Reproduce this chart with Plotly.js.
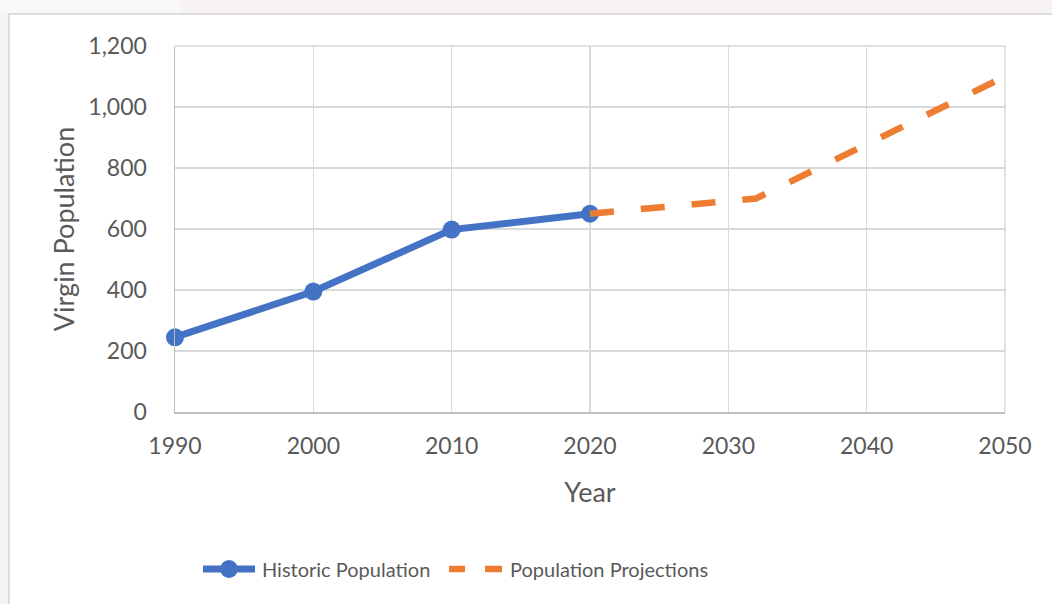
<!DOCTYPE html>
<html>
<head>
<meta charset="utf-8">
<script src="https://cdn.plot.ly/plotly-3.0.1.min.js"></script>
<style>
html,body{margin:0;padding:0;width:1052px;height:604px;overflow:hidden;background:#f7f3f2;}
#lt{position:absolute;left:0;top:0;width:180px;height:13px;background:#f8f8f8;}
#frame{position:absolute;left:8px;top:13px;width:1100px;height:700px;background:#fff;border-left:2px solid #dcdcdc;border-top:2px solid #dcdcdc;}
#chart{position:absolute;left:0;top:0;width:1052px;height:604px;}
</style>
</head>
<body>
<div id="lt"></div>
<div id="frame"></div>
<div id="chart"></div>
<script>
const histYears = [1990, 2000, 2010, 2020];
const histPop = [245, 395, 598, 650];
const projYears = [2020, 2032, 2050];
const projPop = [650, 700, 1100];
const seriesNames = ["Historic Population", "Population Projections"];
const xTitle = "Year";
const yTitle = "Virgin Population";

const font = "Lato, 'Open Sans', sans-serif";
const grey = "#595959";
const blue = "#4472C4";
const orange = "#ED7D31";

const traces = [
  {
    x: histYears, y: histPop, name: seriesNames[0], type: "scatter", mode: "lines+markers",
    line: {color: blue, width: 7},
    marker: {color: blue, size: 18},
    cliponaxis: false
  },
  {
    x: projYears, y: projPop, name: seriesNames[1], type: "scatter", mode: "lines",
    line: {color: orange, width: 6.5, dash: "24px,27px"},
    cliponaxis: false
  }
];

// legend drawn in paper space (plot area 175..1005 px wide, 46..412 px tall)
const pw = 830, ph = 366, pl = 175, pb = 412;
const px = v => (v - pl) / pw;
const ly = (pb - 569) / ph;

const legendShapes = [
  {type: "line", xref: "paper", yref: "paper", x0: px(203), x1: px(255), y0: ly, y1: ly,
   line: {color: blue, width: 7}},
  {type: "circle", xref: "paper", yref: "paper", xsizemode: "pixel", ysizemode: "pixel",
   xanchor: px(229), yanchor: ly, x0: -9, x1: 9, y0: -9, y1: 9,
   fillcolor: blue, line: {color: blue, width: 0}},
  {type: "line", xref: "paper", yref: "paper", x0: px(449), x1: px(465), y0: ly, y1: ly,
   line: {color: orange, width: 6.5}},
  {type: "line", xref: "paper", yref: "paper", x0: px(485), x1: px(502), y0: ly, y1: ly,
   line: {color: orange, width: 6.5}}
];

const legendText = [
  {xref: "paper", yref: "paper", x: px(260), y: ly, xanchor: "left", yanchor: "middle",
   text: seriesNames[0], showarrow: false, font: {family: font, size: 20, color: grey}},
  {xref: "paper", yref: "paper", x: px(508), y: ly, xanchor: "left", yanchor: "middle",
   text: seriesNames[1], showarrow: false, font: {family: font, size: 20, color: grey}}
];

const layout = {
  width: 1052, height: 604,
  paper_bgcolor: "rgba(0,0,0,0)",
  plot_bgcolor: "#ffffff",
  margin: {l: 175, r: 47, t: 46, b: 192, pad: 0},
  font: {family: font, color: grey, size: 23},
  showlegend: false,
  xaxis: {
    range: [1990, 2050], dtick: 10, tick0: 1990,
    showgrid: true, gridcolor: "#d9d9d9", gridwidth: 1.5,
    showline: true, linecolor: "#bfbfbf", linewidth: 1.5,
    zeroline: false, ticks: "outside", ticklen: 13, tickcolor: "rgba(0,0,0,0)",
    tickfont: {family: font, size: 23, color: grey},
    title: {text: xTitle, font: {family: font, size: 27, color: grey}, standoff: 25}
  },
  yaxis: {
    range: [0, 1200], dtick: 200, tickformat: ",d",
    showgrid: true, gridcolor: "#d9d9d9", gridwidth: 1.5,
    showline: true, linecolor: "#bfbfbf", linewidth: 1.5,
    zeroline: false, ticks: "outside", ticklen: 22, tickcolor: "rgba(0,0,0,0)",
    tickfont: {family: font, size: 23, color: grey},
    title: {text: yTitle, font: {family: font, size: 27, color: grey}, standoff: 6}
  },
  shapes: [
    {type: "line", xref: "paper", yref: "paper", x0: 1, x1: 1, y0: 0, y1: 1,
     line: {color: "#d9d9d9", width: 1.5}},
    {type: "line", xref: "paper", yref: "paper", x0: 0, x1: 1, y0: 1, y1: 1,
     line: {color: "#d9d9d9", width: 1.5}}
  ].concat(legendShapes),
  annotations: legendText
};

Plotly.newPlot("chart", traces, layout, {displayModeBar: false, staticPlot: true});
</script>
</body>
</html>
